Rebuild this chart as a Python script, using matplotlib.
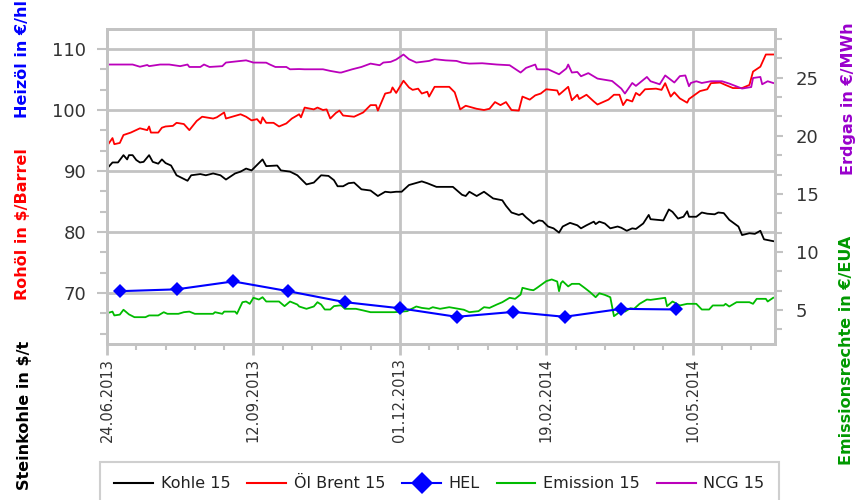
import numpy as np
import matplotlib
matplotlib.use('Agg')
import matplotlib.pyplot as plt
import matplotlib.dates as mdates
from matplotlib.ticker import MultipleLocator, FixedLocator
from matplotlib.lines import Line2D

plt.rcParams['font.family'] = ['DejaVu Sans']

# ---------------- data ----------------
start_date = '2013-06-24'
end_date = '2014-06-24'
x_tick_labels = ['24.06.2013', '12.09.2013', '01.12.2013', '19.02.2014', '10.05.2014']

# Kohle 15 ($/t) - days after start date
kohle_day = [0, 3, 6, 9, 11, 12, 14, 16, 18, 20,
             23, 25, 28, 30, 32, 35, 38, 44, 46, 51,
             54, 58, 62, 65, 70, 73, 76, 79, 82, 85,
             87, 93, 95, 100, 104, 109, 113, 117, 121, 124,
             126, 129, 132, 135, 139, 144, 148, 152, 155, 158,
             161, 165, 172, 175, 180, 189, 194, 196, 198, 202,
             206, 211, 216, 218, 221, 225, 227, 229, 233, 236,
             238, 241, 244, 247, 249, 253, 257, 259, 262, 266,
             267, 269, 272, 275, 279, 281, 284, 287, 289, 293,
             296, 297, 304, 307, 309, 312, 315, 317, 318, 322,
             325, 328, 332, 334, 337, 340, 345, 347, 351, 354,
             357, 359, 364]
kohle_val = [90.4, 91.4, 91.4, 92.6, 91.9, 92.6, 92.6, 91.8, 91.4, 91.5,
             92.6, 91.5, 91.2, 91.9, 91.3, 90.9, 89.3, 88.4, 89.3, 89.5,
             89.3, 89.6, 89.3, 88.6, 89.6, 89.9, 90.4, 90.1, 91.0, 91.9,
             90.8, 90.9, 90.1, 89.9, 89.3, 87.8, 88.1, 89.3, 89.2, 88.5,
             87.5, 87.5, 88.0, 88.1, 87.0, 86.8, 85.9, 86.6, 86.5, 86.6,
             86.6, 87.7, 88.3, 88.0, 87.4, 87.4, 86.1, 85.9, 86.6, 85.9,
             86.6, 85.5, 85.2, 84.3, 83.2, 82.8, 83.0, 82.4, 81.4, 81.9,
             81.8, 80.9, 80.6, 79.9, 80.9, 81.5, 81.1, 80.6, 81.1, 81.7,
             81.3, 81.7, 81.4, 80.6, 80.9, 80.7, 80.2, 80.6, 80.5, 81.4,
             82.8, 82.1, 81.9, 83.7, 83.3, 82.2, 82.5, 83.4, 82.5, 82.5,
             83.2, 83.0, 82.9, 83.2, 83.1, 82.0, 80.9, 79.5, 79.8, 79.7,
             80.2, 78.8, 78.5]

# Öl Brent 15 ($/Barrel)
oel_day = [0, 3, 4, 7, 9, 13, 18, 22, 23, 24,
           28, 30, 32, 36, 38, 42, 45, 49, 52, 58,
           60, 64, 65, 73, 76, 79, 82, 84, 85, 87,
           91, 94, 98, 101, 105, 106, 108, 113, 115, 118,
           120, 122, 125, 127, 129, 135, 140, 144, 147, 148,
           152, 155, 156, 158, 162, 165, 167, 170, 172, 175,
           176, 179, 187, 190, 193, 196, 202, 206, 209, 212,
           215, 218, 221, 225, 227, 231, 234, 237, 240, 246,
           247, 252, 254, 257, 258, 262, 266, 268, 274, 277,
           280, 282, 284, 287, 289, 291, 294, 300, 303, 305,
           308, 310, 313, 317, 318, 324, 328, 330, 335, 338,
           342, 347, 351, 353, 357, 360, 364]
oel_val = [94.1, 95.4, 94.4, 94.6, 95.9, 96.3, 97.0, 96.7, 97.3, 96.3,
           96.3, 97.1, 97.3, 97.4, 97.9, 97.7, 96.7, 98.2, 98.9, 98.6,
           98.8, 99.6, 98.6, 99.3, 98.9, 98.3, 98.5, 97.8, 98.8, 97.9,
           97.9, 97.3, 97.8, 98.6, 99.3, 98.8, 100.4, 100.1, 100.4, 100.0,
           100.1, 98.6, 99.5, 99.9, 99.1, 98.9, 99.6, 100.8, 100.8, 99.9,
           102.7, 102.9, 103.7, 102.8, 104.8, 103.7, 103.3, 103.5, 102.7, 103.0,
           102.2, 103.8, 103.8, 102.9, 100.1, 100.7, 100.2, 100.0, 100.2, 101.3,
           100.8, 101.3, 100.0, 99.9, 102.2, 101.7, 102.4, 102.7, 103.4, 103.2,
           102.5, 103.8, 101.6, 102.5, 101.8, 102.5, 101.4, 100.9, 101.7, 102.5,
           102.5, 100.8, 101.7, 101.4, 102.8, 102.4, 103.4, 103.5, 103.3, 104.4,
           102.2, 102.9, 101.9, 101.2, 101.8, 103.1, 103.4, 104.4, 104.5, 104.1,
           103.6, 103.6, 104.1, 106.3, 107.1, 109.1, 109.1]

# HEL (€/hl), monthly
hel_dates = ['2013-07-01', '2013-08-01', '2013-09-01', '2013-10-01', '2013-11-01',
             '2013-12-01', '2014-01-01', '2014-02-01', '2014-03-01', '2014-04-01',
             '2014-05-01']
hel_val = [70.3, 70.6, 71.9, 70.3, 68.5, 67.5, 66.1, 66.9, 66.1, 67.4, 67.3]

# Emission 15 (€/EUA)
em_day = [0, 3, 4, 7, 9, 12, 15, 21, 23, 28,
          31, 33, 39, 42, 45, 48, 58, 59, 63, 64,
          70, 71, 74, 76, 78, 80, 83, 85, 87, 94,
          97, 100, 104, 105, 109, 113, 115, 117, 119, 122,
          124, 127, 128, 130, 136, 140, 144, 149, 157, 164,
          169, 172, 176, 178, 182, 187, 195, 198, 203, 206,
          209, 213, 216, 220, 223, 226, 227, 231, 233, 235,
          240, 243, 246, 247, 248, 249, 252, 254, 256, 258,
          261, 264, 267, 269, 272, 275, 277, 280, 281, 283,
          286, 288, 291, 295, 297, 305, 306, 309, 313, 317,
          322, 325, 329, 331, 337, 338, 340, 344, 351, 353,
          355, 360, 361, 364]
em_val = [4.72, 4.86, 4.53, 4.6, 5.02, 4.62, 4.38, 4.38, 4.53, 4.53,
          4.81, 4.67, 4.67, 4.81, 4.86, 4.67, 4.67, 4.81, 4.67, 4.86,
          4.86, 4.67, 5.67, 5.73, 5.53, 6.05, 5.9, 6.1, 5.73, 5.73,
          5.33, 5.73, 5.47, 5.3, 5.1, 5.3, 5.67, 5.47, 5.04, 5.04,
          5.33, 5.39, 5.39, 5.1, 5.1, 4.96, 4.81, 4.81, 4.81, 4.9,
          5.3, 5.18, 5.1, 5.24, 5.1, 5.24, 5.02, 4.81, 4.9, 5.24,
          5.18, 5.47, 5.67, 6.05, 5.96, 6.33, 6.91, 6.75, 6.7, 6.91,
          7.48, 7.63, 7.45, 6.62, 7.3, 7.48, 7.03, 7.25, 7.25, 7.25,
          6.9, 6.53, 6.1, 6.44, 6.3, 6.1, 4.47, 4.81, 5.3, 4.86,
          5.15, 5.1, 5.53, 5.9, 5.87, 6.05, 5.33, 5.73, 5.39, 5.53,
          5.53, 5.04, 5.04, 5.39, 5.39, 5.53, 5.3, 5.67, 5.67, 5.53,
          5.96, 5.96, 5.73, 6.05]

# NCG 15 (€/MWh)
ncg_day = [0, 14, 18, 22, 23, 29, 34, 40, 44, 45,
           51, 53, 56, 63, 65, 73, 76, 80, 87, 89,
           92, 98, 100, 105, 108, 118, 122, 127, 128, 134,
           139, 144, 149, 151, 155, 158, 162, 165, 169, 176,
           179, 185, 191, 194, 198, 205, 213, 220, 226, 229,
           234, 235, 241, 247, 251, 252, 254, 257, 259, 263,
           268, 276, 281, 283, 287, 289, 295, 297, 302, 305,
           310, 313, 316, 318, 319, 322, 325, 330, 336, 340,
           347, 352, 353, 357, 358, 361, 364]
ncg_val = [26.14, 26.14, 25.95, 26.1, 26.0, 26.14, 26.14, 26.0, 26.14, 25.93,
           25.93, 26.14, 25.93, 26.0, 26.31, 26.45, 26.5, 26.31, 26.3, 26.14,
           25.93, 25.93, 25.73, 25.75, 25.73, 25.73, 25.59, 25.45, 25.45, 25.73,
           25.93, 26.22, 26.08, 26.31, 26.37, 26.57, 27.0, 26.6, 26.31, 26.45,
           26.6, 26.5, 26.45, 26.3, 26.22, 26.25, 26.14, 26.08, 25.45, 25.85,
           26.14, 25.73, 25.73, 25.3, 25.8, 26.14, 25.45, 25.5, 25.13, 25.4,
           24.93, 24.72, 24.07, 23.64, 24.55, 24.3, 25.07, 24.7, 24.44, 25.2,
           24.59, 25.14, 25.2, 24.27, 24.55, 24.70, 24.55, 24.70, 24.70, 24.5,
           24.07, 24.2, 24.98, 25.07, 24.44, 24.70, 24.55]

# ---------------- helpers ----------------
t0 = np.datetime64(start_date)
def to_dates(days):
    return (t0 + np.array(days, dtype='timedelta64[D]')).astype('datetime64[D]').astype(object)

kohle_x = to_dates(kohle_day)
oel_x = to_dates(oel_day)
em_x = to_dates(em_day)
ncg_x = to_dates(ncg_day)
hel_x = np.array(hel_dates, dtype='datetime64[D]').astype(object)

W, H = 859, 500
fig = plt.figure(figsize=(W / 100, H / 100), dpi=100)
L, R, T, B = 107, 775, 29, 344
rect = [L / W, 1 - B / H, (R - L) / W, (B - T) / H]

grid_c = '#C3C3C3'
tick_c = '#333333'

ax = fig.add_axes(rect)          # left axis (Kohle, Öl)
ax2 = ax.twinx()                 # right axis (Emission, NCG)
ax3 = ax.twinx()                 # HEL on left scale, drawn on top

ax.set_xlim(mdates.datestr2num(start_date), mdates.datestr2num(end_date))
left_lim = (61.64, 113.28)
right_lim = (2.07, 29.2)
ax.set_ylim(*left_lim)
ax3.set_ylim(*left_lim)
ax2.set_ylim(*right_lim)

# grid
ax.set_axisbelow(True)
ax.grid(True, which='major', color=grid_c, linewidth=2.0)

# x ticks
major_x = [mdates.date2num(np.datetime64('-'.join(s.split('.')[::-1])).astype(object)) for s in x_tick_labels]
x0 = mdates.datestr2num(start_date)
x1 = mdates.datestr2num(end_date)
ax.xaxis.set_major_locator(FixedLocator(major_x))
ax.xaxis.set_minor_locator(FixedLocator(np.arange(x0, x1 + 0.1, 16)))
ax.set_xticklabels(x_tick_labels, rotation=90, fontsize=10.5, color=tick_c)

ax.yaxis.set_minor_locator(MultipleLocator(10 / 3))
ax.set_yticks([70, 80, 90, 100, 110])
ax.set_yticklabels(['70', '80', '90', '100', '110'], fontsize=13, color=tick_c)

ax2.yaxis.set_major_locator(FixedLocator([5, 10, 15, 20, 25]))
ax2.yaxis.set_minor_locator(MultipleLocator(5 / 3))
ax2.set_yticklabels(['5', '10', '15', '20', '25'], fontsize=13, color=tick_c)

ax.tick_params(axis='x', which='major', length=8, width=2, color=grid_c, pad=2)
ax.tick_params(axis='x', which='minor', length=4, width=1.5, color=grid_c)
ax.tick_params(axis='y', which='major', length=7, width=1.5, color=grid_c, pad=8)
ax.tick_params(axis='y', which='minor', length=5, width=1.5, color=grid_c)
ax2.tick_params(axis='y', which='major', length=6, width=1.5, color=grid_c, pad=9)
ax2.tick_params(axis='y', which='minor', length=5, width=1.5, color=grid_c)

for a in (ax, ax2, ax3):
    for s in a.spines.values():
        s.set_color(grid_c)
        s.set_linewidth(2.0)
ax3.set_yticks([])
ax3.patch.set_visible(False)
ax2.patch.set_visible(False)

# lines
c_kohle, c_oel, c_hel, c_em, c_ncg = '#000000', '#FF0000', '#0000FF', '#00BB00', '#BB00BB'
ax.plot(kohle_x, kohle_val, color=c_kohle, lw=1.3)
ax.plot(oel_x, oel_val, color=c_oel, lw=1.3)
ax2.plot(em_x, em_val, color=c_em, lw=1.3)
ax2.plot(ncg_x, ncg_val, color=c_ncg, lw=1.3)
ax3.plot(hel_x, hel_val, color=c_hel, lw=1.5, marker='D', markersize=7.5, markeredgewidth=0)

# axis labels (coloured, bold)
lab_kw = dict(rotation=90, ha='center', va='bottom', fontsize=11.5, fontweight='bold')
fig.text(23 / W, 1 - 118 / H, 'Heizöl in €/hl', color='#0000FF', **lab_kw)
fig.text(23 / W, 1 - 300 / H, 'Rohöl in $/Barrel', color='#FF0000', **lab_kw)
fig.text(25 / W, 1 - 490 / H, 'Steinkohle in $/t', color='#000000', **lab_kw)
fig.text(848 / W, 1 - 175 / H, 'Erdgas in €/MWh', color='#9900CC', **lab_kw)
fig.text(847 / W, 1 - 465 / H, 'Emissionsrechte in €/EUA', color='#009900', **lab_kw)

# legend
handles = [Line2D([], [], color=c_kohle, lw=1.5),
           Line2D([], [], color=c_oel, lw=1.5),
           Line2D([], [], color=c_hel, lw=1.5, marker='D', markersize=11, markeredgewidth=0),
           Line2D([], [], color=c_em, lw=1.5),
           Line2D([], [], color=c_ncg, lw=1.5)]
labels = ['Kohle 15', 'Öl Brent 15', 'HEL', 'Emission 15', 'NCG 15']
leg = fig.legend(handles, labels, loc='upper left',
                 bbox_to_anchor=(100 / W, 1 - 462 / H, (779 - 100) / W, 0.0),
                 mode='expand', ncol=5, fontsize=11.5, frameon=True, fancybox=False,
                 handlelength=2.4, handletextpad=0.5, columnspacing=0.9,
                 borderpad=0.9, borderaxespad=0.0)
leg.get_frame().set_edgecolor(grid_c)
leg.get_frame().set_linewidth(1.5)
for t in leg.get_texts():
    t.set_color('#222222')

fig.savefig('out.png', dpi=100)
